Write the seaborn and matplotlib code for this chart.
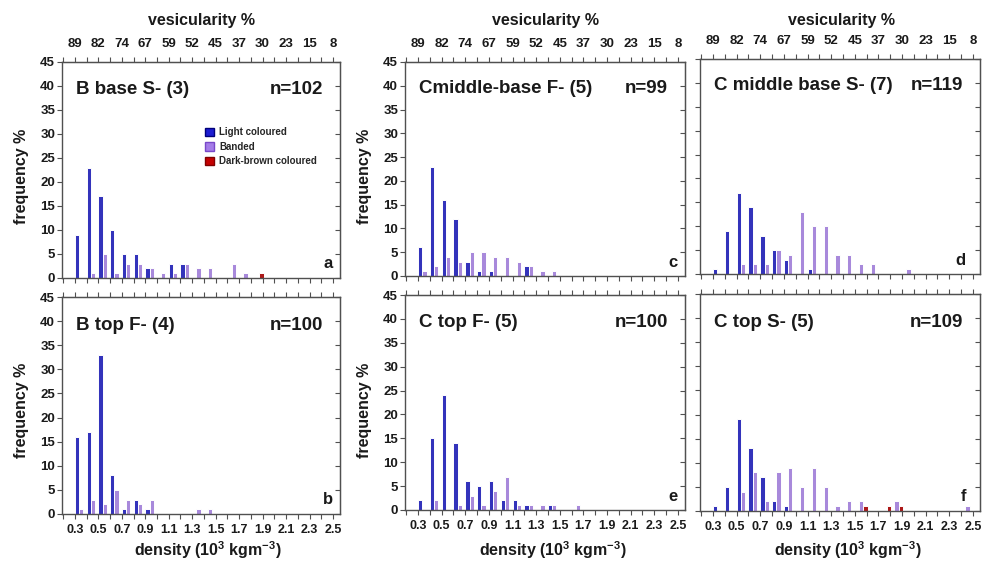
import numpy as np
import pandas as pd
import matplotlib
matplotlib.use("Agg")
import matplotlib.pyplot as plt
import seaborn as sns
from matplotlib.patches import Patch

# ---------------- data ----------------
density_bins = [0.3, 0.4, 0.5, 0.6, 0.7, 0.8, 0.9, 1.0, 1.1, 1.2, 1.3, 1.4,
                1.5, 1.6, 1.7, 1.8, 1.9, 2.0, 2.1, 2.2, 2.3, 2.4]
density_ticks = [0.3, 0.5, 0.7, 0.9, 1.1, 1.3, 1.5, 1.7, 1.9, 2.1, 2.3, 2.5]
density_labels = ["0.3", "0.5", "0.7", "0.9", "1.1", "1.3", "1.5", "1.7",
                  "1.9", "2.1", "2.3", "2.5"]
vesicularity_labels = ["89", "82", "74", "67", "59", "52", "45", "37", "30",
                       "23", "15", "8"]
freq_ticks = [0, 5, 10, 15, 20, 25, 30, 35, 40, 45]
types = ["Light coloured", "Banded", "Dark-brown coloured"]

a_light = [9, 23, 17, 10, 5, 5, 2, 0, 3, 3]
a_banded = [0, 1, 5, 1, 3, 3, 2, 1, 1, 3, 2, 2, 0, 3, 1]
a_dark = [0, 0, 0, 0, 0, 0, 0, 0, 0, 0, 0, 0, 0, 0, 0, 1]

b_light = [16, 17, 33, 8, 1, 3, 1]
b_banded = [1, 3, 2, 5, 3, 2, 3, 0, 0, 0, 1, 1]
b_dark = []

c_light = [6, 23, 16, 12, 3, 1, 1, 0, 0, 2]
c_banded = [1, 2, 4, 3, 5, 5, 4, 4, 3, 2, 1, 1]
c_dark = []

d_light = [1, 9, 17, 14, 8, 5, 3, 0, 1]
d_banded = [0, 0, 2, 2, 2, 5, 4, 13, 10, 10, 4, 4, 2, 2, 0, 0, 1]
d_dark = []

e_light = [2, 15, 24, 14, 6, 5, 6, 2, 2, 1, 0, 1]
e_banded = [0, 2, 0, 1, 3, 1, 4, 7, 1, 1, 1, 1, 0, 1]
e_dark = []

f_light = [1, 5, 19, 13, 7, 2, 1]
f_banded = [0, 0, 4, 8, 2, 8, 9, 5, 9, 5, 1, 2, 2, 0, 0, 2, 0, 0, 0, 0, 0, 1]
f_dark = [0, 0, 0, 0, 0, 0, 0, 0, 0, 0, 0, 0, 1, 0, 1, 1]

titles = {"a": "B base S- (3)", "b": "B top F- (4)", "c": "Cmiddle-base F- (5)",
          "d": "C middle base S- (7)", "e": "C top F- (5)", "f": "C top S- (5)"}
counts = {"a": "n=102", "b": "n=100", "c": "n=99", "d": "n=119",
          "e": "n=100", "f": "n=109"}

# ---------------- style ----------------
sns.set_style("ticks")
plt.rcParams["font.family"] = ["Liberation Sans", "DejaVu Sans"]
plt.rcParams["font.weight"] = "bold"
plt.rcParams["mathtext.fontset"] = "custom"
plt.rcParams["mathtext.rm"] = "Liberation Sans:bold"
plt.rcParams["mathtext.bf"] = "Liberation Sans:bold"
plt.rcParams["mathtext.it"] = "Liberation Sans:bold"

palette = {"Light coloured": "#1c1cd2", "Banded": "#a47ce8",
           "Dark-brown coloured": "#c40000"}
edges = {"Light coloured": "#00007a", "Banded": "#7848c8",
         "Dark-brown coloured": "#800000"}
spine_c = "#505050"
text_c = "#1a1a1a"

W, H = 984, 564
fig = plt.figure(figsize=(W / 100, H / 100), dpi=100)


def rect(x0, y0, x1, y1):
    return [x0 / W, 1 - y1 / H, (x1 - x0) / W, (y1 - y0) / H]


layout = {
    "a": rect(62, 62, 340, 278),
    "b": rect(62, 297, 340, 514),
    "c": rect(405, 62, 685, 276),
    "e": rect(405, 295, 685, 510),
    "d": rect(700, 59, 980, 274),
    "f": rect(700, 294, 980, 511),
}
series = {
    "a": (a_light, a_banded, a_dark),
    "b": (b_light, b_banded, b_dark),
    "c": (c_light, c_banded, c_dark),
    "d": (d_light, d_banded, d_dark),
    "e": (e_light, e_banded, e_dark),
    "f": (f_light, f_banded, f_dark),
}
letter_x = {"a": 0.975, "b": 0.975, "c": 0.975, "e": 0.975, "d": 0.95, "f": 0.95}


def make_df(light, banded, dark):
    rows = []
    for name, vals in zip(types, (light, banded, dark)):
        for b, v in zip(density_bins, vals):
            if v > 0:
                rows.append({"density": b, "type": name, "freq": v})
    df = pd.DataFrame(rows)
    df["pos"] = df["density"] + 0.054
    return df


minor_ticks = [0.2 + 0.1 * i for i in range(24)]

for key, box in layout.items():
    ax = fig.add_axes(box)
    df = make_df(*series[key])
    sns.barplot(data=df, x="pos", y="freq", hue="type", hue_order=types,
                palette=palette, native_scale=True, width=1.08, gap=0,
                errorbar=None, legend=False, ax=ax, linewidth=0.7)
    inv = {tuple(np.round(matplotlib.colors.to_rgba(c), 3)): n
           for n, c in palette.items()}
    for p in ax.patches:
        k = tuple(np.round(p.get_facecolor(), 3))
        if k in inv:
            p.set_edgecolor(edges[inv[k]])

    ax.set_xlim(0.19, 2.56)
    ax.set_ylim(0, 45)
    ax.set_xlabel("")
    ax.set_ylabel("")
    for s in ax.spines.values():
        s.set_visible(True)
        s.set_color(spine_c)
        s.set_linewidth(1.0)

    top_row = key in ("a", "c", "d")
    left_labels = key in ("a", "b", "c", "e")

    ax.set_yticks(freq_ticks)
    ax.tick_params(axis="y", direction="out", length=3.5, width=0.8,
                   color=spine_c, labelsize=9.5, labelcolor=text_c, pad=1.5,
                   labelleft=left_labels)
    ax.set_xticks(minor_ticks, minor=True)
    ax.set_xticks(density_ticks)
    if top_row:
        ax.set_xticklabels([])
    else:
        ax.set_xticklabels(density_labels)
    ax.tick_params(axis="x", which="both", direction="out", length=3.5,
                   width=0.8, color=spine_c, labelsize=9, labelcolor=text_c,
                   pad=4, top=False)
    for lab in ax.get_xticklabels() + ax.get_yticklabels():
        lab.set_fontweight("bold")

    sec = ax.secondary_xaxis("top")
    sec.set_xticks(minor_ticks, minor=True)
    sec.set_xticks(density_ticks)
    if top_row:
        sec.set_xticklabels(vesicularity_labels)
    else:
        sec.set_xticklabels([])
    sec.tick_params(axis="x", which="both", direction="out", length=3.5,
                    width=0.8, color=spine_c, labelsize=9.5, labelcolor=text_c,
                    pad=5)
    sec.spines["top"].set_color(spine_c)
    for lab in sec.get_xticklabels():
        lab.set_fontweight("bold")

    secy = ax.secondary_yaxis("right")
    secy.set_yticks(freq_ticks)
    secy.set_yticklabels([])
    secy.tick_params(axis="y", direction="in", length=3.5, width=0.8,
                     color=spine_c)
    secy.spines["right"].set_color(spine_c)

    ty = 0.875 if top_row else 0.87
    ax.text(0.05, ty, titles[key], transform=ax.transAxes, fontsize=13.5,
            fontweight="bold", color=text_c, ha="left", va="center")
    ax.text(0.94, ty, counts[key], transform=ax.transAxes, fontsize=13.5,
            fontweight="bold", color=text_c, ha="right", va="center")
    ax.text(letter_x[key], 0.065, key, transform=ax.transAxes, fontsize=12,
            fontweight="bold", color=text_c, ha="right", va="center")

    if key == "a":
        handles = [Patch(facecolor=palette[t], edgecolor=edges[t], label=t)
                   for t in types]
        ax.legend(handles=handles, loc="upper left", bbox_to_anchor=(0.5, 0.715),
                  frameon=False, prop={"size": 7, "weight": "bold"},
                  handlelength=0.9, handleheight=0.9, handletextpad=0.6,
                  labelspacing=0.45, borderaxespad=0)

# column-level labels
for xc in (201, 545, 842):
    fig.text(xc / W, 1 - 20 / H, "vesicularity %", fontsize=11.5,
             fontweight="bold", color=text_c, ha="center", va="center")
for xc in (208, 553, 848):
    fig.text(xc / W, 1 - 550 / H, r"density (10$^{3}$ kgm$^{-3}$)",
             fontsize=11.5, fontweight="bold", color=text_c, ha="center",
             va="center")
for xc in (22, 364):
    for yc in (176, 410):
        fig.text(xc / W, 1 - yc / H, "frequency %", fontsize=11.5,
                 fontweight="bold", color=text_c, ha="center", va="center",
                 rotation=90)

fig.savefig("out.png", dpi=100)
